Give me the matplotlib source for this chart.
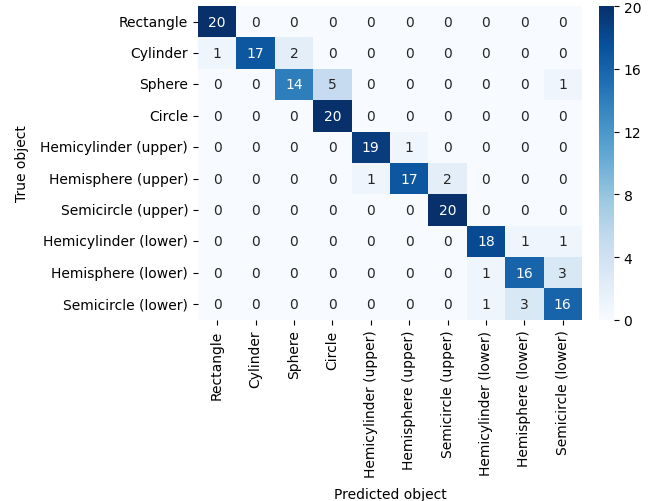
# Confusion matrix of true vs predicted object classes, drawn as a seaborn heatmap.
import matplotlib
matplotlib.use('Agg')
import matplotlib.pyplot as plt
import numpy as np
import seaborn as sns

labels = ['Rectangle', 'Cylinder', 'Sphere', 'Circle',
          'Hemicylinder (upper)', 'Hemisphere (upper)', 'Semicircle (upper)',
          'Hemicylinder (lower)', 'Hemisphere (lower)', 'Semicircle (lower)']

# One row per true class, columns are the predicted classes.
row_rectangle = [20, 0, 0, 0, 0, 0, 0, 0, 0, 0]
row_cylinder = [1, 17, 2, 0, 0, 0, 0, 0, 0, 0]
row_sphere = [0, 0, 14, 5, 0, 0, 0, 0, 0, 1]
row_circle = [0, 0, 0, 20, 0, 0, 0, 0, 0, 0]
row_hemicyl_up = [0, 0, 0, 0, 19, 1, 0, 0, 0, 0]
row_hemisph_up = [0, 0, 0, 0, 1, 17, 2, 0, 0, 0]
row_semicirc_up = [0, 0, 0, 0, 0, 0, 20, 0, 0, 0]
row_hemicyl_low = [0, 0, 0, 0, 0, 0, 0, 18, 1, 1]
row_hemisph_low = [0, 0, 0, 0, 0, 0, 0, 1, 16, 3]
row_semicirc_low = [0, 0, 0, 0, 0, 0, 0, 1, 3, 16]

cbar_ticks = [0, 4, 8, 12, 16, 20]

matrix = np.array([row_rectangle, row_cylinder, row_sphere, row_circle,
                   row_hemicyl_up, row_hemisph_up, row_semicirc_up,
                   row_hemicyl_low, row_hemisph_low, row_semicirc_low])

fig = plt.figure(figsize=(6.51, 5.02), dpi=100)
ax = fig.add_axes([0.304, 0.361, 0.590, 0.625])
cax = fig.add_axes([0.920, 0.361, 0.023, 0.625])

sns.heatmap(matrix, annot=True, fmt='d', cmap='Blues', vmin=0, vmax=20,
            xticklabels=labels, yticklabels=labels, ax=ax, cbar_ax=cax,
            cbar_kws={'ticks': cbar_ticks})

ax.set_xlabel('Predicted object', labelpad=7)
ax.set_ylabel('True object', labelpad=8)
plt.setp(ax.get_xticklabels(), rotation=90)
plt.setp(ax.get_yticklabels(), rotation=0)
ax.tick_params(length=3.5, width=0.8)
cax.tick_params(length=3.5, width=0.8)
for s in cax.spines.values():
    s.set_visible(False)

fig.savefig('out.png', dpi=100)
